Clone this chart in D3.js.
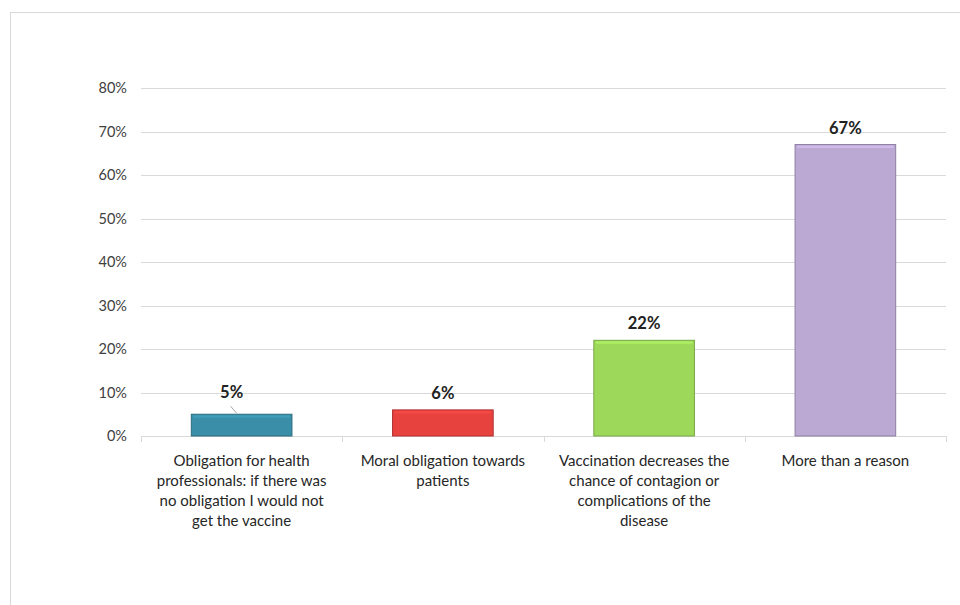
<!DOCTYPE html>
<html><head><meta charset="utf-8">
<script src="https://cdn.jsdelivr.net/npm/d3@7"></script>
<style>body{margin:0;background:#fff}svg{display:block}</style>
</head><body><svg id="c" width="960" height="605"></svg>
<script>
const categories = [
  ["Obligation for health","professionals: if there was","no obligation I would not","get the vaccine"],
  ["Moral obligation towards","patients"],
  ["Vaccination decreases the","chance of contagion or","complications of the","disease"],
  ["More than a reason"]
];
const values = [5, 6, 22, 67];
const colors = ["#3a8ea8", "#e8423f", "#9dd85a", "#bba9d3"];
const strokes = ["#2b6c80", "#b03030", "#76a844", "#8c7ea0"];
const tickValues = [0,10,20,30,40,50,60,70,80];

const svg = d3.select("#c");
const font = "Lato, 'Open Sans', sans-serif";
// outer frame
svg.append("rect").attr("x",10.5).attr("y",12.5).attr("width",960).attr("height",620)
  .attr("fill","#fff").attr("stroke","#d9d9d9");

const x = d3.scaleBand().domain(d3.range(values.length)).range([141,946]).paddingInner(0).paddingOuter(0);
const y = d3.scaleLinear().domain([0,80]).range([436,88]);

// gridlines
svg.append("g").selectAll("line").data(tickValues.filter(d=>d>0)).join("line")
  .attr("x1",141).attr("x2",946).attr("y1",d=>Math.round(y(d))+0.5).attr("y2",d=>Math.round(y(d))+0.5)
  .attr("stroke","#d9d9d9");

// y axis labels
const yAxis = d3.axisLeft(y).tickValues(tickValues).tickFormat(d=>d+"%").tickSize(0).tickPadding(14);
const gy = svg.append("g").attr("transform","translate(141,0)").call(yAxis);
gy.select(".domain").remove();
gy.selectAll("text").attr("font-family",font).attr("font-size",14.5).attr("fill","#404040");

// bottom axis
const gx = svg.append("g");
gx.append("line").attr("x1",141).attr("x2",946).attr("y1",436.5).attr("y2",436.5).attr("stroke","#d9d9d9");
const seps = d3.range(values.length+1).map(i=> i<values.length ? x(i) : x(values.length-1)+x.bandwidth());
gx.selectAll("line.t").data(seps).join("line").attr("class","t")
  .attr("x1",d=>Math.round(d)+0.5).attr("x2",d=>Math.round(d)+0.5).attr("y1",436).attr("y2",442).attr("stroke","#d9d9d9");

// bars
const bw = x.bandwidth()*0.5;
const bars = svg.append("g").selectAll("g").data(values).join("g");
bars.append("rect")
  .attr("x",(d,i)=>x(i)+x.bandwidth()/2-bw/2)
  .attr("y",d=>y(d))
  .attr("width",bw).attr("height",d=>y(0)-y(d))
  .attr("fill",(d,i)=>colors[i]).attr("stroke",(d,i)=>strokes[i]).attr("stroke-width",1);
// bevel highlight at top
bars.append("rect")
  .attr("x",(d,i)=>x(i)+x.bandwidth()/2-bw/2+2)
  .attr("y",d=>y(d)+1)
  .attr("width",bw-4).attr("height",2.5)
  .attr("fill",(d,i)=>d3.color(colors[i]).brighter(0.45)).attr("opacity",0.6);

// value labels
svg.append("g").selectAll("text").data(values).join("text")
  .attr("x",(d,i)=>x(i)+x.bandwidth()/2 - (i===0?10:0))
  .attr("y",(d,i)=> i===0 ? y(d)-16 : y(d)-11)
  .attr("text-anchor","middle").attr("font-family",font).attr("font-weight","bold")
  .attr("font-size",16.5).attr("fill","#222").text(d=>d+"%");
// leader line for first label
svg.append("line").attr("x1",x(0)+x.bandwidth()/2-11).attr("y1",y(values[0])-8)
  .attr("x2",x(0)+x.bandwidth()/2-5).attr("y2",y(values[0])-1).attr("stroke","#a6a6a6");

// category labels
const cl = svg.append("g").selectAll("text").data(categories).join("text")
  .attr("text-anchor","middle").attr("font-family",font).attr("font-size",15).attr("fill","#262626");
cl.each(function(lines,i){
  d3.select(this).selectAll("tspan").data(lines).join("tspan")
    .attr("x",x(i)+x.bandwidth()/2).attr("y",(d,j)=>466+j*20).text(d=>d);
});
</script></body></html>
